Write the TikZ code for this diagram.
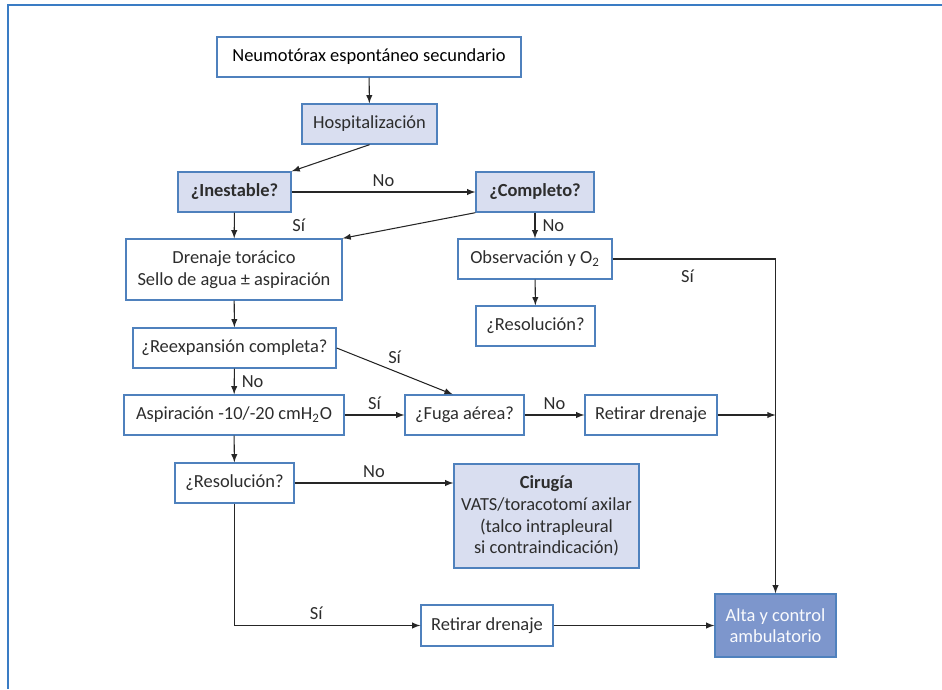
\documentclass[tikz,border=0pt]{standalone}
\usepackage{fontspec}
\setmainfont{Carlito}
\usetikzlibrary{arrows, positioning}
\definecolor{framecol}{RGB}{58,124,196}
\definecolor{edgecol}{RGB}{79,129,189}
\definecolor{lightfill}{RGB}{217,222,240}
\definecolor{darkfill}{RGB}{125,150,204}
\definecolor{txt}{RGB}{45,45,45}

\begin{document}
\begin{tikzpicture}
  [x=0.02cm, y=-0.02cm,
   box/.style={rectangle, draw=edgecol, line width=0.8pt, fill=white, text=txt,
     font=\fontsize{10.5}{12.3}\selectfont, align=center, inner sep=2pt, minimum height=0.8cm},
   qbox/.style={box, fill=lightfill},
   lbl/.style={text=txt, font=\fontsize{10.5}{12.3}\selectfont, inner sep=1pt},
   line/.style={->, >=latex, line width=0.6pt, draw=black!85}]
  \useasboundingbox (0,0) rectangle (942,689);
  \draw [framecol, line width=1.2pt] (942,5) -- (8,5) -- (8,689);

  \node (neumo) at (369,57) [box, minimum width=6.08cm] {\color{black}Neumotórax espontáneo secundario};
  \node (hosp) at (369.5,124) [qbox, minimum width=2.7cm] {Hospitalización};
  \node (inest) at (234.5,192) [qbox, minimum width=2.26cm] {\bfseries ¿Inestable?};
  \node (compl) at (535,192) [qbox, minimum width=2.36cm] {\bfseries ¿Completo?};
  \node (dren) at (234,269.5) [box, minimum width=4.32cm, minimum height=1.22cm] {Drenaje torácico\\Sello de agua ± aspiración};
  \node (obs) at (535,259) [box, minimum width=3.08cm] {Observación y O\textsubscript{2}};
  \node (resA) at (535.5,326) [box, minimum width=2.38cm] {¿Resolución?};
  \node (reexp) at (234.5,348) [box, minimum width=4.06cm] {¿Reexpansión completa?};
  \node (asp) at (234,415) [box, minimum width=4.4cm] {Aspiración -10/-20 cmH\textsubscript{2}O};
  \node (fuga) at (464.5,415) [box, minimum width=2.38cm] {¿Fuga aérea?};
  \node (retA) at (651,415) [box, minimum width=2.64cm] {Retirar drenaje};
  \node (resB) at (234.5,483) [box, minimum width=2.38cm] {¿Resolución?};
  \node (ciru) at (546.5,516) [qbox, minimum width=3.7cm, minimum height=2.08cm] {{\bfseries Cirugía}\\VATS/toracotomí axilar\\(talco intrapleural\\si contraindicación)};
  \node (retB) at (487,625.5) [box, minimum width=2.64cm, minimum height=0.82cm] {Retirar drenaje};
  \node (alta) at (775.5,625.5) [box, fill=darkfill, text=white!85!lightfill, minimum width=2.42cm, minimum height=1.26cm] {Alta y control\\ambulatorio};

  \draw [line] (neumo) -- (hosp);
  \draw [line] (hosp.south) -- (inest.north east);
  \draw [line] (inest) -- node [lbl, above=2pt] {No} (compl);
  \draw [line] (inest) -- (dren);
  \draw [line] (compl.south west) -- node [lbl, pos=1, xshift=-0.88cm, yshift=0.26cm] {Sí} (dren.north east);
  \draw [line] (compl) -- node [lbl, right=3pt] {No} (obs);
  \draw [line] (obs) -- (resA);
  \draw [line] (obs) -| node [lbl, pos=0.23, below=5pt] {Sí} (alta);
  \draw [line] (dren) -- (reexp);
  \draw [line] (reexp.east) -- node [lbl, above=3pt] {Sí} (fuga.120);
  \draw [line] (reexp) -- node [lbl, right=3pt] {No} (asp);
  \draw [line] (asp) -- node [lbl, above=2pt] {Sí} (fuga);
  \draw [line] (fuga) -- node [lbl, above=2pt] {No} (retA);
  \draw [line] (retA) -- (retA -| alta);
  \draw [line] (asp) -- (resB);
  \draw [line] (resB) -- node [lbl, above=2pt] {No} (resB -| ciru.west);
  \draw [line] (resB) |- node [lbl, pos=0.72, above=2pt] {Sí} (retB);
  \draw [line] (retB) -- (alta);
\end{tikzpicture}
\end{document}
